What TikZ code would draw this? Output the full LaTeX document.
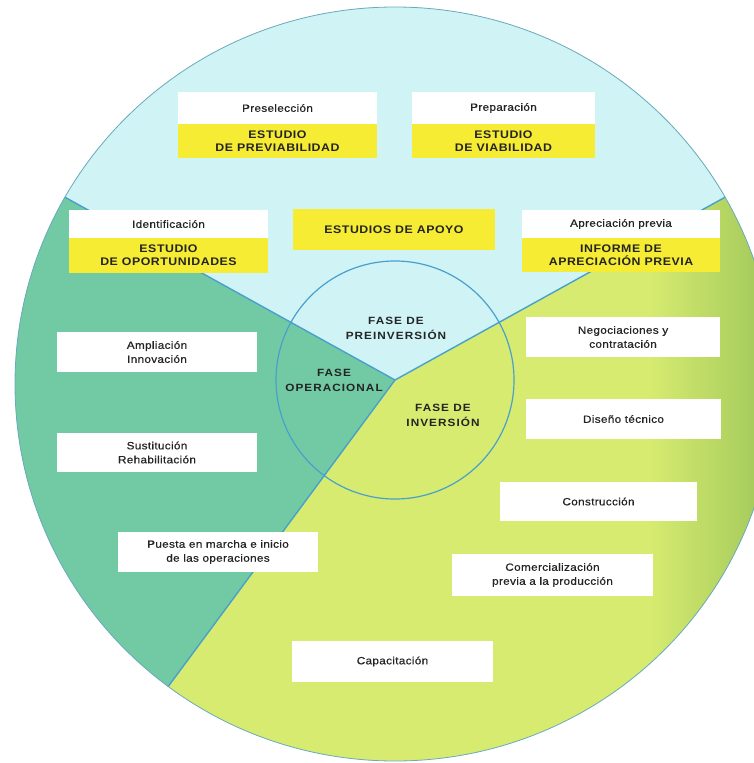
\documentclass[tikz,border=0pt]{standalone}
\usepackage{fontspec}
\setmainfont{Liberation Sans}
\newfontfamily\labfont[FakeStretch=1.12, FakeBold=0.6, LetterSpace=3]{Liberation Sans}
\newfontfamily\hdrfont[FakeStretch=1.12, LetterSpace=5]{Liberation Sans}
\newfontfamily\phasefont[FakeStretch=1.12, LetterSpace=10]{Liberation Sans}
\definecolor{secSky}{RGB}{208,243,246}
\definecolor{secTeal}{RGB}{114,202,164}
\definecolor{secYG}{RGB}{214,235,112}
\definecolor{secYGdark}{RGB}{165,203,92}
\definecolor{lineBlue}{RGB}{72,160,205}
\definecolor{rimBlue}{RGB}{105,170,190}
\definecolor{boxYel}{RGB}{246,236,52}
\definecolor{txtGray}{RGB}{36,36,36}
\begin{document}
\begin{tikzpicture}[x=1pt,y=-1pt,
  lab/.style={fill=white, inner sep=0pt, align=center, text=txtGray,
    font=\labfont\fontsize{10.5}{14}\selectfont},
  hdr/.style={fill=boxYel, inner sep=0pt, align=center, text=txtGray,
    font=\hdrfont\fontsize{11}{13}\selectfont\bfseries},
  phase/.style={inner sep=0pt, align=center, text=txtGray,
    font=\phasefont\fontsize{10.5}{15}\selectfont\bfseries},
  divider/.style={draw=lineBlue, line width=1.4pt},
  wide/.style={minimum width=199pt},
]
\useasboundingbox (0,0) rectangle (754,763);
\fill[white] (0,0) rectangle (754,763);

% junction of the three phases and far ends of the dividers
\coordinate (J) at (395,380);
\coordinate (fL) at (-42.3,137.8);
\coordinate (fR) at (832.3,137.8);
\coordinate (fB) at (-80.8,1023);

% the three sectors of the disc
\begin{scope}
  \clip (395,384) ellipse [x radius=380pt, y radius=377pt];
  \fill[secYG] (0,0) rectangle (800,800);
  \shade[left color=secYG, right color=secYGdark] (650,0) rectangle (760,800);
  \fill[secSky] (J) -- (fL) -- (-42.3,-60) -- (832.3,-60) -- (fR) -- cycle;
  \fill[secTeal] (J) -- (fL) -- (-120,100) -- (-120,1030) -- (fB) -- cycle;
  \draw[divider] (J) -- (fL);
  \draw[divider] (J) -- (fR);
  \draw[divider] (J) -- (fB);
\end{scope}
\draw[rimBlue, line width=0.8pt] (395,384) ellipse [x radius=380pt, y radius=377pt];

% inner circle of the phases
\node[draw=lineBlue, line width=1.2pt, circle, minimum size=238pt, inner sep=0pt] (core) at (J) {};

% phase labels
\node[phase] (pPre) at (396,328) {FASE DE\\PREINVERSIÓN};
\node[phase] (pOpe) at (334,380) {FASE\\OPERACIONAL};
\node[phase] (pInv) at (443,415) {FASE DE\\INVERSIÓN};

% pre-investment studies
\node[lab, wide, minimum height=32pt] (presel) at (277.5,108) {Preselección};
\node[hdr, wide, minimum height=34pt] (prevb) at (277.5,141) {ESTUDIO\\DE PREVIABILIDAD};
\node[lab, minimum width=183pt, minimum height=32pt] (prepa) at (503.5,108) {Preparación};
\node[hdr, minimum width=183pt, minimum height=34pt] (viab) at (503.5,141) {ESTUDIO\\DE VIABILIDAD};

\node[lab, wide, minimum height=28pt] (ident) at (168.5,224) {Identificación};
\node[hdr, wide, minimum height=35pt] (oport) at (168.5,255.5) {ESTUDIO\\DE OPORTUNIDADES};
\node[hdr, minimum width=202pt, minimum height=41pt] (apoyo) at (394,229.5) {ESTUDIOS DE APOYO};
\node[lab, minimum width=198pt, minimum height=28pt] (aprec) at (621,224) {Apreciación previa};
\node[hdr, minimum width=198pt, minimum height=34pt] (inform) at (621,255) {INFORME DE\\APRECIACIÓN PREVIA};

% operational phase
\node[lab, minimum width=200pt, minimum height=40pt] (ampl) at (157,352) {Ampliación\\Innovación};
\node[lab, minimum width=200pt, minimum height=39pt] (sust) at (157,452.5) {Sustitución\\Rehabilitación};
\node[lab, minimum width=200pt, minimum height=40pt] (puesta) at (218,552) {Puesta en marcha e inicio\\de las operaciones};

% investment phase
\node[lab, minimum width=194pt, minimum height=40pt] (negoc) at (623,337) {Negociaciones y\\contratación};
\node[lab, minimum width=195pt, minimum height=40pt] (disen) at (623.5,419) {Diseño técnico};
\node[lab, minimum width=197pt, minimum height=39pt] (constr) at (598.5,501.5) {Construcción};
\node[lab, minimum width=201pt, minimum height=42pt] (comer) at (552.5,575) {Comercialización\\previa a la producción};
\node[lab, minimum width=201pt, minimum height=41pt] (capac) at (392.5,661.5) {Capacitación};
\end{tikzpicture}
\end{document}
